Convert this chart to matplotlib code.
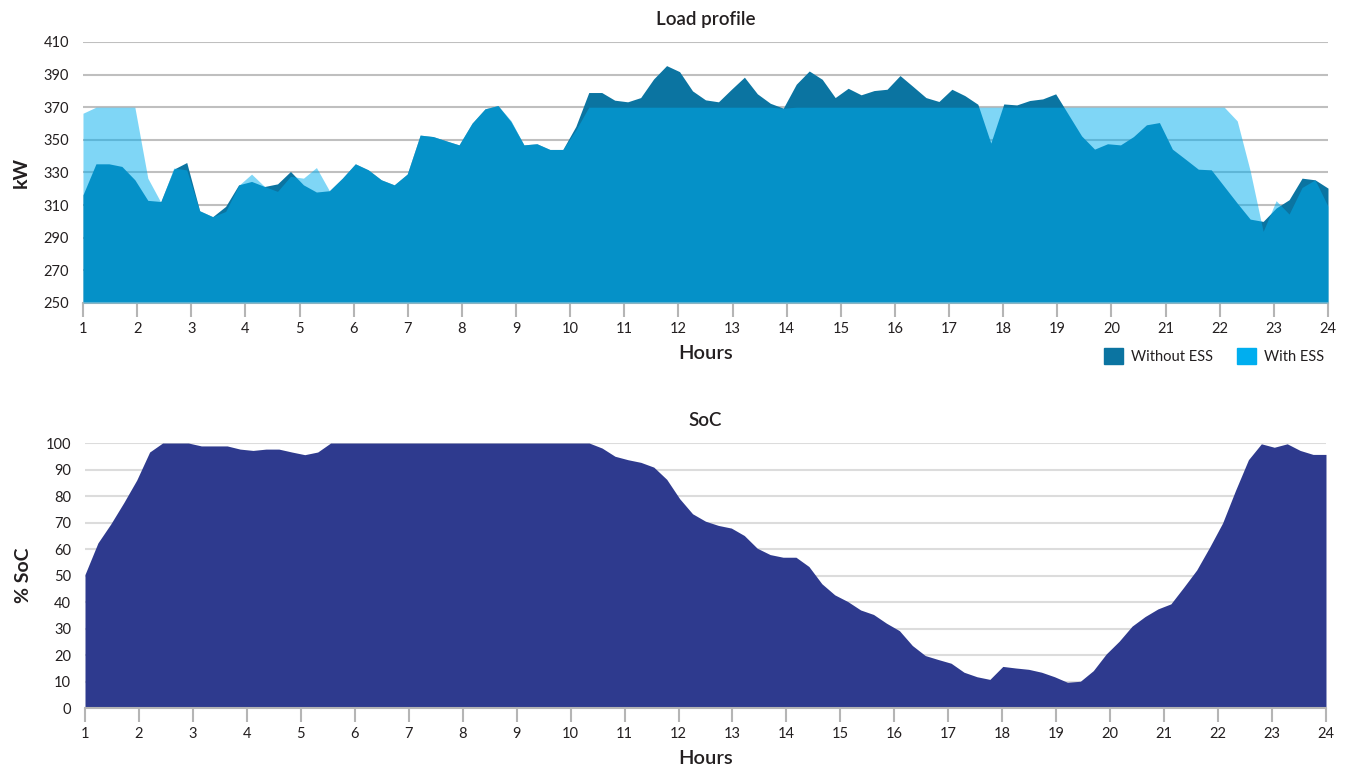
import matplotlib
matplotlib.use("Agg")
import matplotlib.pyplot as plt
from matplotlib.patches import Patch
import numpy as np

plt.rcParams['font.family'] = ['Lato', 'DejaVu Sans']

# 15-minute samples over the day, shown on a 1..24 hour axis
hours = np.linspace(1, 24, 97)

without_ess = [316.3, 335.3, 335.3, 333.7, 325.5, 312.9, 312.2, 332.0, 336.1, 306.5,
               302.9, 309.2, 322.4, 324.5, 321.4, 323.0, 330.6, 322.4, 318.0, 318.8,
               326.5, 335.3, 331.6, 325.5, 322.4, 329.0, 352.9, 352.0, 349.4, 346.9,
               360.2, 369.0, 371.0, 361.2, 346.9, 347.6, 344.1, 344.1, 358.2, 379.0,
               379.0, 374.3, 373.3, 375.9, 387.3, 395.5, 391.8, 380.0, 374.5, 373.3,
               381.0, 388.4, 378.2, 372.4, 369.4, 384.1, 392.2, 387.1, 375.9, 381.6,
               377.6, 380.2, 381.0, 389.4, 382.7, 375.9, 373.5, 381.0, 377.1, 371.8,
               348.0, 372.0, 371.4, 374.1, 375.1, 378.2, 365.3, 352.4, 344.3, 347.6,
               346.9, 352.0, 359.2, 360.6, 344.3, 338.2, 332.0, 331.6, 321.4, 311.2,
               301.4, 300.0, 308.2, 313.3, 326.5, 325.5, 320.4]

with_ess = [366.3, 370.0, 370.0, 370.0, 370.0, 326.5, 311.8, 332.7, 331.6, 306.5,
            302.9, 306.1, 322.0, 329.0, 321.4, 318.4, 327.6, 326.5, 333.0, 318.8,
            326.5, 335.3, 331.6, 325.5, 322.4, 329.0, 352.9, 352.0, 349.4, 346.9,
            360.2, 369.0, 371.0, 361.8, 346.9, 347.6, 344.1, 344.1, 356.0, 370.0,
            370.0, 370.0, 370.0, 370.0, 370.0, 370.0, 370.0, 370.0, 370.0, 370.0,
            370.0, 370.0, 370.0, 370.0, 369.4, 370.0, 370.0, 370.0, 370.0, 370.0,
            370.0, 370.0, 370.0, 370.0, 370.0, 370.0, 370.0, 370.0, 370.0, 370.0,
            370.0, 370.0, 370.0, 370.0, 370.0, 370.0, 370.0, 370.0, 370.0, 370.0,
            370.0, 370.0, 370.0, 370.0, 370.0, 370.0, 370.0, 370.0, 370.0, 361.6,
            331.0, 293.9, 312.7, 304.5, 320.8, 325.5, 309.2]

soc = [50.4, 62.3, 69.5, 77.5, 86.0, 96.6, 100, 100, 100, 98.9,
       98.9, 98.9, 97.7, 97.2, 97.7, 97.7, 96.6, 95.6, 96.6, 100,
       100, 100, 100, 100, 100, 100, 100, 100, 100, 100,
       100, 100, 100, 100, 100, 100, 100, 100, 100, 100,
       98.1, 95.0, 93.7, 92.7, 90.9, 86.3, 79.0, 73.3, 70.5, 68.9,
       67.9, 65.1, 60.3, 57.9, 56.9, 56.9, 53.4, 46.9, 42.7, 40.2,
       37.0, 35.3, 32.0, 29.2, 23.6, 19.8, 18.3, 16.9, 13.5, 11.8,
       10.8, 15.7, 15.1, 14.6, 13.5, 11.8, 9.7, 10.1, 14.1, 20.4,
       25.2, 30.9, 34.5, 37.4, 39.3, 45.6, 52.1, 60.7, 69.8, 82.1,
       93.7, 99.7, 98.4, 99.7, 97.2, 95.7, 95.7]

hour_ticks = list(range(1, 25))
kw_ticks = [250, 270, 290, 310, 330, 350, 370, 390, 410]
soc_ticks = [0, 10, 20, 30, 40, 50, 60, 70, 80, 90, 100]

dark = '#0b74a1'
bright = '#00aeef'
navy = '#2e3a8e'
txt = '#231f20'

fig = plt.figure(figsize=(13.47, 7.67), dpi=100)

# ---- load profile ----
ax1 = fig.add_axes([0.0616, 0.6050, 0.9243, 0.3403])
ax1.fill_between(hours, 250, without_ess, color=dark, lw=0, zorder=2)
ax1.fill_between(hours, 250, with_ess, color=bright, alpha=0.5, lw=0, zorder=3)
ax1.set_xlim(1, 24)
ax1.set_ylim(250, 410)
ax1.set_yticks(kw_ticks)
ax1.set_xticks(hour_ticks)
ax1.grid(axis='y', color='#bfbfbf', lw=1.5, zorder=1)
ax1.set_axisbelow(True)
for s in ['top', 'right', 'left']:
    ax1.spines[s].set_visible(False)
ax1.spines['bottom'].set_color('#b5b5b5')
ax1.spines['bottom'].set_linewidth(1.5)
ax1.tick_params(axis='y', length=0, pad=10, labelsize=10.5, colors=txt)
ax1.tick_params(axis='x', length=10, width=1.5, color='#b5b5b5', labelsize=10.5,
                labelcolor=txt, pad=4)
ax1.set_title('Load profile', fontsize=13.5, color=txt, pad=12, fontweight='semibold')
ax1.set_ylabel('kW', fontsize=14, fontweight='bold', color=txt, labelpad=10)
ax1.set_xlabel('Hours', fontsize=14.5, fontweight='semibold', color=txt, labelpad=6)

handles = [Patch(color=dark, label='Without ESS'), Patch(color=bright, label='With ESS')]
fig.legend(handles=handles, loc='center right', bbox_to_anchor=(0.993, 0.536), ncol=2,
           frameon=False, fontsize=10.5, handlelength=1.3, handleheight=1.3,
           handletextpad=0.6, columnspacing=1.6, labelcolor=txt)

# ---- state of charge ----
ax2 = fig.add_axes([0.0631, 0.0769, 0.9213, 0.3455])
ax2.fill_between(hours, 0, soc, color=navy, lw=0, zorder=2)
ax2.set_xlim(1, 24)
ax2.set_ylim(0, 100)
ax2.set_yticks(soc_ticks)
ax2.set_xticks(hour_ticks)
ax2.grid(axis='y', color='#dcdcdc', lw=1.5, zorder=1)
ax2.set_axisbelow(True)
for s in ['top', 'right', 'left']:
    ax2.spines[s].set_visible(False)
ax2.spines['bottom'].set_color('#b5b5b5')
ax2.spines['bottom'].set_linewidth(1.5)
ax2.tick_params(axis='y', length=0, pad=10, labelsize=10.5, colors=txt)
ax2.tick_params(axis='x', length=10, width=1.5, color='#b5b5b5', labelsize=10.5,
                labelcolor=txt, pad=4)
ax2.set_title('SoC', fontsize=13.5, color=txt, pad=12, fontweight='semibold')
ax2.set_ylabel('% SoC', fontsize=14, fontweight='bold', color=txt, labelpad=10)
ax2.set_xlabel('Hours', fontsize=14.5, fontweight='semibold', color=txt, labelpad=6)

fig.savefig('out.png', dpi=100)
